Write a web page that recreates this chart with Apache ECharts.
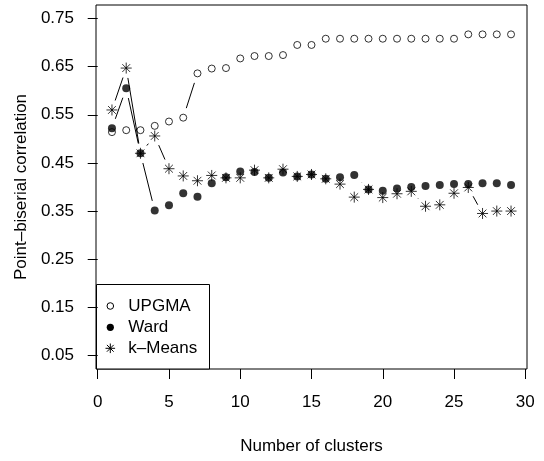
<!DOCTYPE html>
<html><head><meta charset="utf-8">
<script src="https://cdn.jsdelivr.net/npm/echarts@6/dist/echarts.min.js"></script>
<style>html,body{margin:0;padding:0;background:#fff}#c{width:544px;height:461px}</style>
</head><body><div id="c"></div>
<script>
const clusters = [1,2,3,4,5,6,7,8,9,10,11,12,13,14,15,16,17,18,19,20,21,22,23,24,25,26,27,28,29];
const upgma  = [0.514,0.518,0.518,0.527,0.536,0.544,0.636,0.646,0.647,0.667,0.672,0.672,0.674,0.695,0.695,
                0.708,0.708,0.708,0.708,0.708,0.708,0.708,0.708,0.708,0.708,0.717,0.717,0.717,0.717];
const ward   = [0.522,0.605,0.470,0.351,0.362,0.387,0.380,0.408,0.420,0.432,0.431,0.419,0.430,0.422,0.426,
                0.417,0.420,0.425,0.395,0.392,0.397,0.400,0.402,0.404,0.406,0.406,0.408,0.408,0.404];
const kmeans = [0.560,0.647,0.470,0.506,0.438,0.423,0.413,0.424,0.419,0.419,0.435,0.419,0.437,0.422,0.426,
                0.417,0.406,0.379,0.395,0.378,0.386,0.391,0.360,0.363,0.387,0.399,0.345,0.350,0.350];
const xTicks = [0,5,10,15,20,25,30];
const yTicks = [0.05,0.15,0.25,0.35,0.45,0.55,0.65,0.75];
const seriesNames = ['UPGMA','Ward','k\u2013Means'];
const xTitle = 'Number of clusters';
const yTitle = 'Point\u2013biserial correlation';

const FONT = '"Liberation Sans", Arial, sans-serif';
const FS = 17;
const ASTERISK = 'path://M0,10L20,10M10,0L10,20M2.93,2.93L17.07,17.07M17.07,2.93L2.93,17.07';
const GAP = 10;

function pts(vals){ return clusters.map((c,i)=>[c, vals[i]]); }
function segs(vals){
  const out=[];
  for(let i=1;i<clusters.length;i++) out.push([clusters[i-1], vals[i-1], clusters[i], vals[i]]);
  return out;
}
function segRender(params, api){
  const a = api.coord([api.value(0), api.value(1)]);
  const b = api.coord([api.value(2), api.value(3)]);
  const dx=b[0]-a[0], dy=b[1]-a[1];
  const d=Math.hypot(dx,dy);
  const f = GAP/d;
  if (!(f < 0.5)) return null;
  return {type:'line', shape:{x1:a[0]+f*dx, y1:a[1]+f*dy, x2:b[0]-f*dx, y2:b[1]-f*dy},
          style:{stroke:'#000', lineWidth:1}};
}
function segSeries(vals){
  return {type:'custom', silent:true, renderItem:segRender, data:segs(vals),
          dimensions:['x1','y1','x2','y2'], encode:{x:[0,2], y:[1,3]}, z:1};
}
const txt = {fontFamily:FONT, fontSize:FS, color:'#000'};

// legend drawn as graphic (box + keys + real text)
const LX = 110.3, TX = 128.3, ROWS = [306, 327.3, 348.3];
const lstroke = {stroke:'#000', lineWidth:1};
function asteriskLines(cx, cy, L){
  const s = L/Math.SQRT2;
  return [
    {type:'line', shape:{x1:cx-L,y1:cy,x2:cx+L,y2:cy}, style:lstroke},
    {type:'line', shape:{x1:cx,y1:cy-L,x2:cx,y2:cy+L}, style:lstroke},
    {type:'line', shape:{x1:cx-s,y1:cy-s,x2:cx+s,y2:cy+s}, style:lstroke},
    {type:'line', shape:{x1:cx-s,y1:cy+s,x2:cx+s,y2:cy-s}, style:lstroke}
  ];
}
const legendGraphic = {type:'group', z:100, children:[
  {type:'rect', shape:{x:96.5, y:284.5, width:113, height:84.5}, style:{fill:'#fff', stroke:'#000', lineWidth:1}},
  {type:'circle', shape:{cx:LX, cy:ROWS[0], r:3.3}, style:{fill:'none', stroke:'#000', lineWidth:1}},
  {type:'circle', shape:{cx:LX, cy:ROWS[1], r:3.6}, style:{fill:'#000'}},
  ...asteriskLines(LX, ROWS[2], 4.8),
  ...seriesNames.map((n,i)=>({type:'text', x:TX, y:ROWS[i],
      style:{text:n, fill:'#000', font:FS+'px '+FONT, textAlign:'left', textVerticalAlign:'middle'}}))
]};

const chart = echarts.init(document.getElementById('c'), null, {renderer:'canvas'});
chart.setOption({
  animation:false,
  backgroundColor:'#fff',
  grid:{left:96, top:5, width:431, height:364, show:true, borderColor:'#000', borderWidth:1, backgroundColor:'transparent'},
  xAxis:{type:'value', min:-0.12, max:30.12,
    axisLine:{show:false}, splitLine:{show:false},
    axisTick:{show:true, length:10, customValues:xTicks, lineStyle:{color:'#000', width:1}},
    axisLabel:{customValues:xTicks, margin:25, ...txt},
    name:xTitle, nameLocation:'middle', nameGap:69, nameTextStyle:{...txt}},
  yAxis:{type:'value', min:0.022, max:0.778,
    axisLine:{show:false}, splitLine:{show:false},
    axisTick:{show:true, length:10, customValues:yTicks, lineStyle:{color:'#000', width:1}},
    axisLabel:{customValues:yTicks, margin:22, formatter:v=>v.toFixed(2), ...txt},
    name:yTitle, nameLocation:'middle', nameRotate:90, nameGap:66, nameTextStyle:{...txt}},
  graphic:[legendGraphic],
  series:[
    segSeries(upgma), segSeries(ward), segSeries(kmeans),
    {name:seriesNames[0], type:'scatter', data:pts(upgma), symbol:'circle', symbolSize:7,
     itemStyle:{color:'rgba(0,0,0,0)', borderColor:'#000', borderWidth:1}, emphasis:{disabled:true}, z:2},
    {name:seriesNames[1], type:'scatter', data:pts(ward), symbol:'circle', symbolSize:8,
     itemStyle:{color:'#000'}, emphasis:{disabled:true}, z:3},
    {name:seriesNames[2], type:'scatter', data:pts(kmeans), symbol:ASTERISK, symbolSize:11,
     itemStyle:{color:'rgba(0,0,0,0)', borderColor:'#000', borderWidth:1}, emphasis:{disabled:true}, z:4}
  ]
});
</script></body></html>
